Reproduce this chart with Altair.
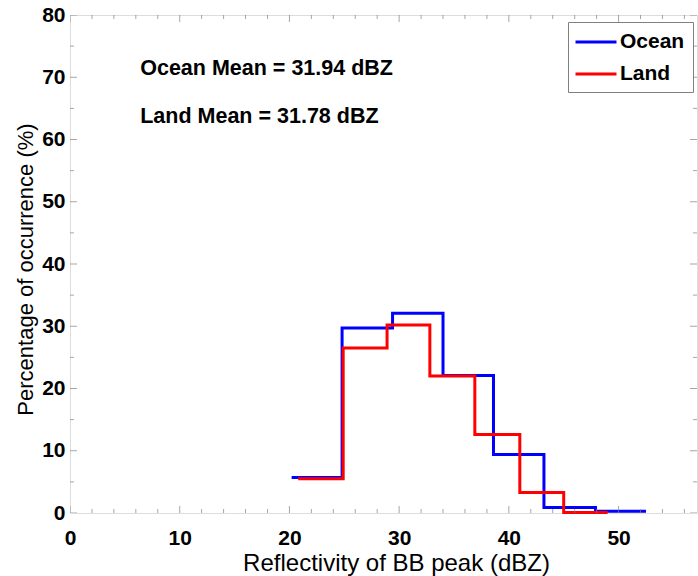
import altair as alt
import pandas as pd

# Histogram of bright-band peak reflectivity (step outlines)
ocean_edges = [20.2, 24.8, 29.4, 34.0, 38.6, 43.2, 47.9, 52.5]
ocean_pct = [5.7, 29.7, 32.1, 22.1, 9.4, 0.9, 0.3]
land_edges = [20.8, 24.9, 28.9, 32.8, 36.9, 41.0, 45.0, 49.0]
land_pct = [5.5, 26.5, 30.2, 22.0, 12.6, 3.3, 0.1]

series_names = ["Ocean", "Land"]
series_colors = ["#0000ff", "#ff0000"]
means = {"Ocean": 31.94, "Land": 31.78}

x_major = [0, 10, 20, 30, 40, 50]
x_minor = [v for v in range(0, 58, 2) if v % 10 != 0]
y_major = [0, 10, 20, 30, 40, 50, 60, 70, 80]
y_minor = [5, 15, 25, 35, 45, 55, 65, 75]

W, H = 627, 498
FONT = "Liberation Sans"
FRAME = "#808080"


def step_rows(name, edges, vals):
    # last value repeated so the final bin closes at its right edge
    ys = list(vals) + [vals[-1]]
    return [{"series": name, "dbz": e, "pct": v, "order": i}
            for i, (e, v) in enumerate(zip(edges, ys))]


steps = pd.DataFrame(step_rows("Ocean", ocean_edges, ocean_pct)
                     + step_rows("Land", land_edges, land_pct))

x_scale = alt.Scale(domain=[0, 57.15], nice=False, zero=False)
y_scale = alt.Scale(domain=[0, 80], nice=False)

x_axis = alt.Axis(values=x_major, format="d", grid=False, domain=False, ticks=False,
                  tickSize=0, labelFlush=False, labelFontSize=21, labelFontWeight="bold",
                  labelPadding=14, labelFont=FONT, labelColor="black",
                  title="Reflectivity of BB peak (dBZ)", titleFont=FONT,
                  titleFontSize=24, titleFontWeight="normal", titleColor="black",
                  titleX=326, titleY=57, titleBaseline="alphabetic")
y_axis = alt.Axis(values=y_major, format="d", grid=False, domain=False, ticks=False,
                  tickSize=0, labelFlush=False, labelFontSize=21, labelFontWeight="bold",
                  labelPadding=5, labelFont=FONT, labelColor="black",
                  title="Percentage of occurrence (%)", titleFont=FONT,
                  titleFontSize=22, titleFontWeight="normal", titleColor="black",
                  titleX=-38, titleY=254, titleAngle=270, titleBaseline="alphabetic")

lines = alt.Chart(steps).mark_line(interpolate="step-after", strokeWidth=3).encode(
    x=alt.X("dbz:Q", scale=x_scale, axis=x_axis),
    y=alt.Y("pct:Q", scale=y_scale, axis=y_axis),
    color=alt.Color("series:N",
                    scale=alt.Scale(domain=series_names, range=series_colors),
                    legend=alt.Legend(title=None, orient="none", legendX=498, legendY=7,
                                      symbolType="M-2,0H2", symbolSize=420,
                                      symbolStrokeWidth=3, symbolOffset=8,
                                      labelOffset=12, labelFontSize=21,
                                      labelFontWeight="bold", labelFont=FONT,
                                      labelColor="black", rowPadding=10, padding=8,
                                      strokeColor=FRAME, fillColor="white",
                                      labelLimit=200)),
    order="order:Q",
)

# inward tick marks on all four sides (centered on the frame, outer half clipped)
def x_ticks(vals, length):
    df = pd.DataFrame({"v": vals})
    base = alt.Chart(df).mark_tick(clip=True, thickness=1, color=FRAME)
    return [base.encode(x=alt.X("v:Q", scale=x_scale), y=alt.value(pos),
                        size=alt.value(2 * length)) for pos in (0, H)]


def y_ticks(vals, length):
    df = pd.DataFrame({"v": vals})
    base = alt.Chart(df).mark_tick(clip=True, thickness=1, color=FRAME)
    return [base.encode(y=alt.Y("v:Q", scale=y_scale), x=alt.value(pos),
                        size=alt.value(2 * length)) for pos in (0, W)]


ticks = x_ticks(x_major, 7) + x_ticks(x_minor, 4) + y_ticks(y_major, 7) + y_ticks(y_minor, 4)

notes = pd.DataFrame({
    "label": [f"{k} Mean = {v:.2f} dBZ" for k, v in means.items()],
    "row": [0, 1],
})
note_text = alt.Chart(notes).transform_calculate(
    tx="6.4", ty="70.4 - datum.row * 7.75"
).mark_text(align="left", baseline="alphabetic", fontSize=21.5, fontWeight="bold",
            font=FONT, color="black").encode(
    x=alt.X("tx:Q", scale=x_scale),
    y=alt.Y("ty:Q", scale=y_scale),
    text="label:N",
)

chart = alt.layer(lines, note_text, *ticks).properties(
    width=W, height=H,
    autosize=alt.AutoSizeParams(type="none"),
    padding={"left": 70, "top": 15, "right": 1, "bottom": 63},
).configure_view(stroke=FRAME, strokeWidth=1.5).configure(background="white")

chart.save("out.html", embed_options={"renderer": "svg", "actions": False})
